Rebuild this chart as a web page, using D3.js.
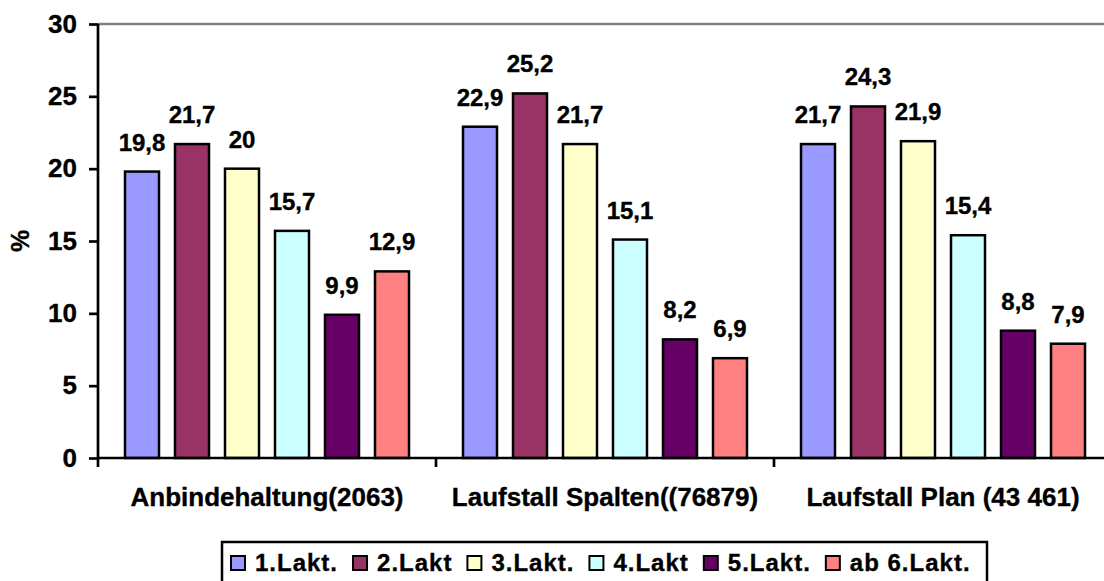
<!DOCTYPE html>
<html>
<head>
<meta charset="utf-8">
<script src="https://cdn.jsdelivr.net/npm/d3@7"></script>
<style>
  html, body { margin: 0; padding: 0; background: #fff; }
  svg { display: block; }
  text { font-family: Arial, "Liberation Sans", sans-serif; font-weight: bold; fill: #000; stroke: #000; stroke-width: 0.35px; }
</style>
</head>
<body>
<svg id="chart" width="1104" height="581"></svg>
<script>
const categories = ["Anbindehaltung(2063)", "Laufstall Spalten((76879)", "Laufstall Plan (43 461)"];
const seriesNames = ["1.Lakt.", "2.Lakt", "3.Lakt.", "4.Lakt", "5.Lakt.", "ab 6.Lakt."];
const seriesColors = ["#9999FF", "#993366", "#FFFFCC", "#CCFFFF", "#660066", "#FF8080"];
const s1 = [19.8, 22.9, 21.7];
const s2 = [21.7, 25.2, 24.3];
const s3 = [20.0, 21.7, 21.9];
const s4 = [15.7, 15.1, 15.4];
const s5 = [9.9, 8.2, 8.8];
const s6 = [12.9, 6.9, 7.9];
const seriesValues = [s1, s2, s3, s4, s5, s6];
const yTicks = [0, 5, 10, 15, 20, 25, 30];
const yTitle = "%";

(function () {
const svg = d3.select("#chart");
const mLeft = 98, mRight = 1112, mTop = 24, mBottom = 458;

const y = d3.scaleLinear().domain([0, 30]).range([mBottom, mTop]);
const x0 = d3.scaleBand().domain(categories).range([mLeft, mRight]).padding(0);
const x1 = d3.scaleBand().domain(seriesNames).range([0, x0.bandwidth()])
  .paddingInner(0.32).paddingOuter(0.54);

const fmt = v => String(v).replace(".", ",");

// top gridline (max)
svg.append("line")
  .attr("x1", mLeft).attr("x2", 1104)
  .attr("y1", y(30)).attr("y2", y(30))
  .attr("stroke", "#808080").attr("stroke-width", 2.7);

// bars
const groups = svg.append("g").selectAll("g")
  .data(categories).join("g")
  .attr("transform", d => `translate(${x0(d)},0)`);

const rows = (c, ci) => seriesNames.map((s, si) => ({ s, si, v: seriesValues[si][ci] }));

groups.selectAll("rect")
  .data(rows)
  .join("rect")
  .attr("x", d => x1(d.s))
  .attr("y", d => y(d.v))
  .attr("width", x1.bandwidth())
  .attr("height", d => y(0) - y(d.v))
  .attr("fill", d => seriesColors[d.si])
  .attr("stroke", "#000")
  .attr("stroke-width", 2.5);

groups.selectAll("text.val")
  .data(rows)
  .join("text")
  .attr("class", "val")
  .attr("x", d => x1(d.s) + x1.bandwidth() / 2)
  .attr("y", d => y(d.v) - 21)
  .attr("text-anchor", "middle")
  .style("font-size", "24px")
  .text(d => fmt(d.v));

// y axis
const yAxis = d3.axisLeft(y).tickValues(yTicks).tickSize(9).tickPadding(12);
const gy = svg.append("g").attr("transform", `translate(${mLeft},0)`).call(yAxis);
gy.select(".domain").attr("stroke", "#000").attr("stroke-width", 2.7)
  .attr("d", `M0,${mTop}V${mBottom}`);
gy.selectAll(".tick line").attr("stroke", "#000").attr("stroke-width", 2.7);
gy.selectAll(".tick text")
  .style("font-size", "26px").style("font-family", "Arial, 'Liberation Sans', sans-serif")
  .style("font-weight", "bold").attr("fill", "#000");

// x axis
const xTickPositions = [0, 1, 2].map(i => mLeft + i * x0.step());
svg.append("line")
  .attr("x1", mLeft).attr("x2", 1104)
  .attr("y1", mBottom).attr("y2", mBottom)
  .attr("stroke", "#000").attr("stroke-width", 2.7);
svg.append("g").selectAll("line")
  .data(xTickPositions).join("line")
  .attr("x1", d => d).attr("x2", d => d)
  .attr("y1", mBottom).attr("y2", mBottom + 9)
  .attr("stroke", "#000").attr("stroke-width", 2.7);

svg.append("g").selectAll("text")
  .data(categories).join("text")
  .attr("x", d => x0(d) + x0.bandwidth() / 2)
  .attr("y", 506)
  .attr("text-anchor", "middle")
  .style("font-size", "26px")
  .text(d => d);

// y title
svg.append("text")
  .attr("transform", "translate(29,241) rotate(-90)")
  .attr("text-anchor", "middle")
  .style("font-size", "25px")
  .text(yTitle);

// legend
const legend = svg.append("g");
legend.append("rect")
  .attr("x", 222).attr("y", 542).attr("width", 765).attr("height", 60)
  .attr("fill", "#fff").attr("stroke", "#000").attr("stroke-width", 2.5);
let lx = 231;
seriesNames.forEach((name, i) => {
  legend.append("rect")
    .attr("x", lx).attr("y", 556).attr("width", 14).attr("height", 14)
    .attr("fill", seriesColors[i]).attr("stroke", "#000").attr("stroke-width", 2);
  const t = legend.append("text")
    .attr("x", lx + 24).attr("y", 571)
    .style("font-size", "24px")
    .style("letter-spacing", "1px")
    .text(name);
  lx += 24 + t.node().getComputedTextLength() + 15;
});
})();
</script>
</body>
</html>
